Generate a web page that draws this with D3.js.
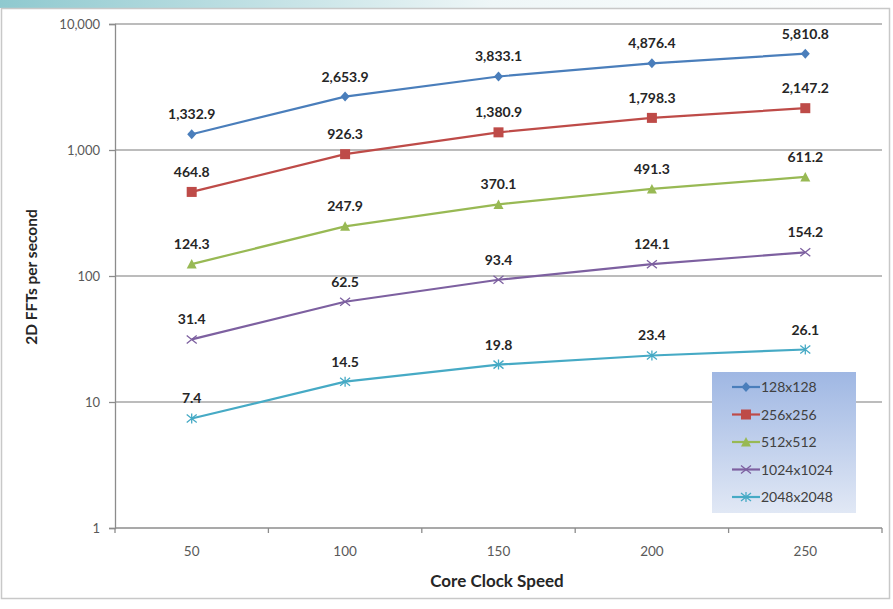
<!DOCTYPE html>
<html>
<head>
<meta charset="utf-8">
<script src="https://cdn.jsdelivr.net/npm/d3@7"></script>
<style>
  html, body { margin: 0; padding: 0; background: #fff; }
  svg { display: block; font-family: Lato, "Open Sans", sans-serif; }
</style>
</head>
<body>
<svg id="chart" width="893" height="609"></svg>
<script>
// Core clock speeds (MHz) on the x axis
const clockSpeeds = ["50", "100", "150", "200", "250"];

// 2D FFT throughput per transform size
const fft128  = [1332.9, 2653.9, 3833.1, 4876.4, 5810.8];
const fft256  = [464.8, 926.3, 1380.9, 1798.3, 2147.2];
const fft512  = [124.3, 247.9, 370.1, 491.3, 611.2];
const fft1024 = [31.4, 62.5, 93.4, 124.1, 154.2];
const fft2048 = [7.4, 14.5, 19.8, 23.4, 26.1];

const seriesNames = ["128x128", "256x256", "512x512", "1024x1024", "2048x2048"];
const yTickValues = [1, 10, 100, 1000, 10000];

const series = [
  { name: seriesNames[0], values: fft128,  color: "#4a7ebb", marker: "diamond" },
  { name: seriesNames[1], values: fft256,  color: "#be4b48", marker: "square" },
  { name: seriesNames[2], values: fft512,  color: "#98b954", marker: "triangle" },
  { name: seriesNames[3], values: fft1024, color: "#7d60a0", marker: "cross" },
  { name: seriesNames[4], values: fft2048, color: "#46aac5", marker: "star" }
];

const svg = d3.select("#chart");
const W = 893, H = 609;
const plot = { left: 115, right: 882, top: 24, bottom: 528 };

// Header band and frame
const defs = svg.append("defs");
const hdr = defs.append("linearGradient").attr("id", "hdr").attr("x1", 0).attr("x2", 1);
hdr.append("stop").attr("offset", "0").attr("stop-color", "#8fc9cf");
hdr.append("stop").attr("offset", "0.55").attr("stop-color", "#eef6f7");
hdr.append("stop").attr("offset", "1").attr("stop-color", "#ffffff");
svg.append("rect").attr("x", 0).attr("y", 0).attr("width", W).attr("height", 8).attr("fill", "url(#hdr)");
svg.append("rect").attr("x", 1.5).attr("y", 8.5).attr("width", 888).attr("height", 590)
  .attr("fill", "#fff").attr("stroke", "#c8c8c8").attr("stroke-width", 1.5);

const x = d3.scaleBand().domain(clockSpeeds).range([plot.left, plot.right]);
const y = d3.scaleLog().domain([1, 10000]).range([plot.bottom, plot.top]);

// Horizontal gridlines
svg.append("g").selectAll("line").data(yTickValues.slice(1)).join("line")
  .attr("x1", plot.left).attr("x2", plot.right)
  .attr("y1", d => y(d)).attr("y2", d => y(d))
  .attr("stroke", "#a6a6a6").attr("stroke-width", 1.3);

// Y axis
const yAxis = d3.axisLeft(y).tickValues(yTickValues).tickFormat(d3.format(",")).tickSizeOuter(0).tickSize(6).tickPadding(9);
const gy = svg.append("g").attr("transform", `translate(${plot.left},0)`).call(yAxis);
gy.select(".domain").attr("stroke", "#8c8c8c").attr("stroke-width", 1.3);
gy.selectAll(".tick line").attr("stroke", "#8c8c8c").attr("stroke-width", 1.3);
gy.selectAll(".tick text").attr("fill", "#595959").style("font-size", "13px").style("font-family", "Lato, sans-serif");

// X axis with ticks at category boundaries
const gx = svg.append("g").attr("transform", `translate(0,${plot.bottom})`);
gx.append("line").attr("x1", plot.left).attr("x2", plot.right).attr("stroke", "#8c8c8c").attr("stroke-width", 1.3);
const bounds = clockSpeeds.map(c => x(c)).concat([plot.right]);
gx.selectAll("line.tk").data(bounds).join("line").attr("class", "tk")
  .attr("x1", d => d).attr("x2", d => d).attr("y1", 0).attr("y2", 5)
  .attr("stroke", "#8c8c8c").attr("stroke-width", 1.3);
gx.selectAll("text").data(clockSpeeds).join("text")
  .attr("x", d => x(d) + x.bandwidth() / 2).attr("y", 28)
  .attr("text-anchor", "middle").attr("fill", "#595959").style("font-size", "13.5px")
  .text(d => d);

// Axis titles
svg.append("text").attr("x", 497).attr("y", 587)
  .attr("text-anchor", "middle").attr("font-weight", "bold").attr("fill", "#262626")
  .style("font-size", "17px").text("Core Clock Speed");
svg.append("text").attr("transform", `translate(37,${(plot.top + plot.bottom) / 2 + 1}) rotate(-90)`)
  .attr("text-anchor", "middle").attr("font-weight", "bold").attr("fill", "#262626")
  .style("font-size", "15.5px").text("2D FFTs per second");

const cx = i => x(clockSpeeds[i]) + x.bandwidth() / 2;

function drawMarker(g, type, color) {
  if (type === "diamond") {
    g.append("path").attr("d", "M0,-5L4.5,0L0,5L-4.5,0Z").attr("fill", color);
  } else if (type === "square") {
    g.append("rect").attr("x", -5).attr("y", -5).attr("width", 10).attr("height", 10).attr("fill", color);
  } else if (type === "triangle") {
    g.append("path").attr("d", "M0,-5L5,4.5L-5,4.5Z").attr("fill", color);
  } else if (type === "cross") {
    g.append("path").attr("d", "M-5,-4L5,4M-5,4L5,-4").attr("stroke", color).attr("stroke-width", 1.3).attr("fill", "none");
  } else if (type === "star") {
    g.append("path").attr("d", "M-5,-4L5,4M-5,4L5,-4M0,-5L0,5").attr("stroke", color).attr("stroke-width", 1.3).attr("fill", "none");
  }
}

const line = d3.line().x((d, i) => cx(i)).y(d => y(d));
const fmt = d3.format(",.1f");

series.forEach(s => {
  const g = svg.append("g");
  g.append("path").datum(s.values).attr("d", line)
    .attr("fill", "none").attr("stroke", s.color).attr("stroke-width", 2.2);
  s.values.forEach((v, i) => {
    const m = g.append("g").attr("transform", `translate(${cx(i)},${y(v)})`);
    drawMarker(m, s.marker, s.color);
    g.append("text").attr("x", cx(i)).attr("y", y(v) - 15)
      .attr("text-anchor", "middle").attr("font-weight", "bold").attr("fill", "#262626")
      .style("font-size", "14px").text(fmt(v));
  });
});

// Legend
const lg = defs.append("linearGradient").attr("id", "lg").attr("x1", 0).attr("x2", 0).attr("y1", 0).attr("y2", 1);
lg.append("stop").attr("offset", "0").attr("stop-color", "#9fb7e3");
lg.append("stop").attr("offset", "1").attr("stop-color", "#e1e8f5");
const legend = svg.append("g").attr("transform", "translate(712,372)");
legend.append("rect").attr("width", 144).attr("height", 141).attr("fill", "url(#lg)");
series.forEach((s, i) => {
  const ly = 15 + i * 27.5;
  const row = legend.append("g").attr("transform", `translate(0,${ly})`);
  row.append("line").attr("x1", 20).attr("x2", 48).attr("stroke", s.color).attr("stroke-width", 2.2);
  drawMarker(row.append("g").attr("transform", "translate(34,0)"), s.marker, s.color);
  row.append("text").attr("x", 49).attr("y", 5).attr("fill", "#404040").style("font-size", "14px").text(s.name);
});
</script>
</body>
</html>
